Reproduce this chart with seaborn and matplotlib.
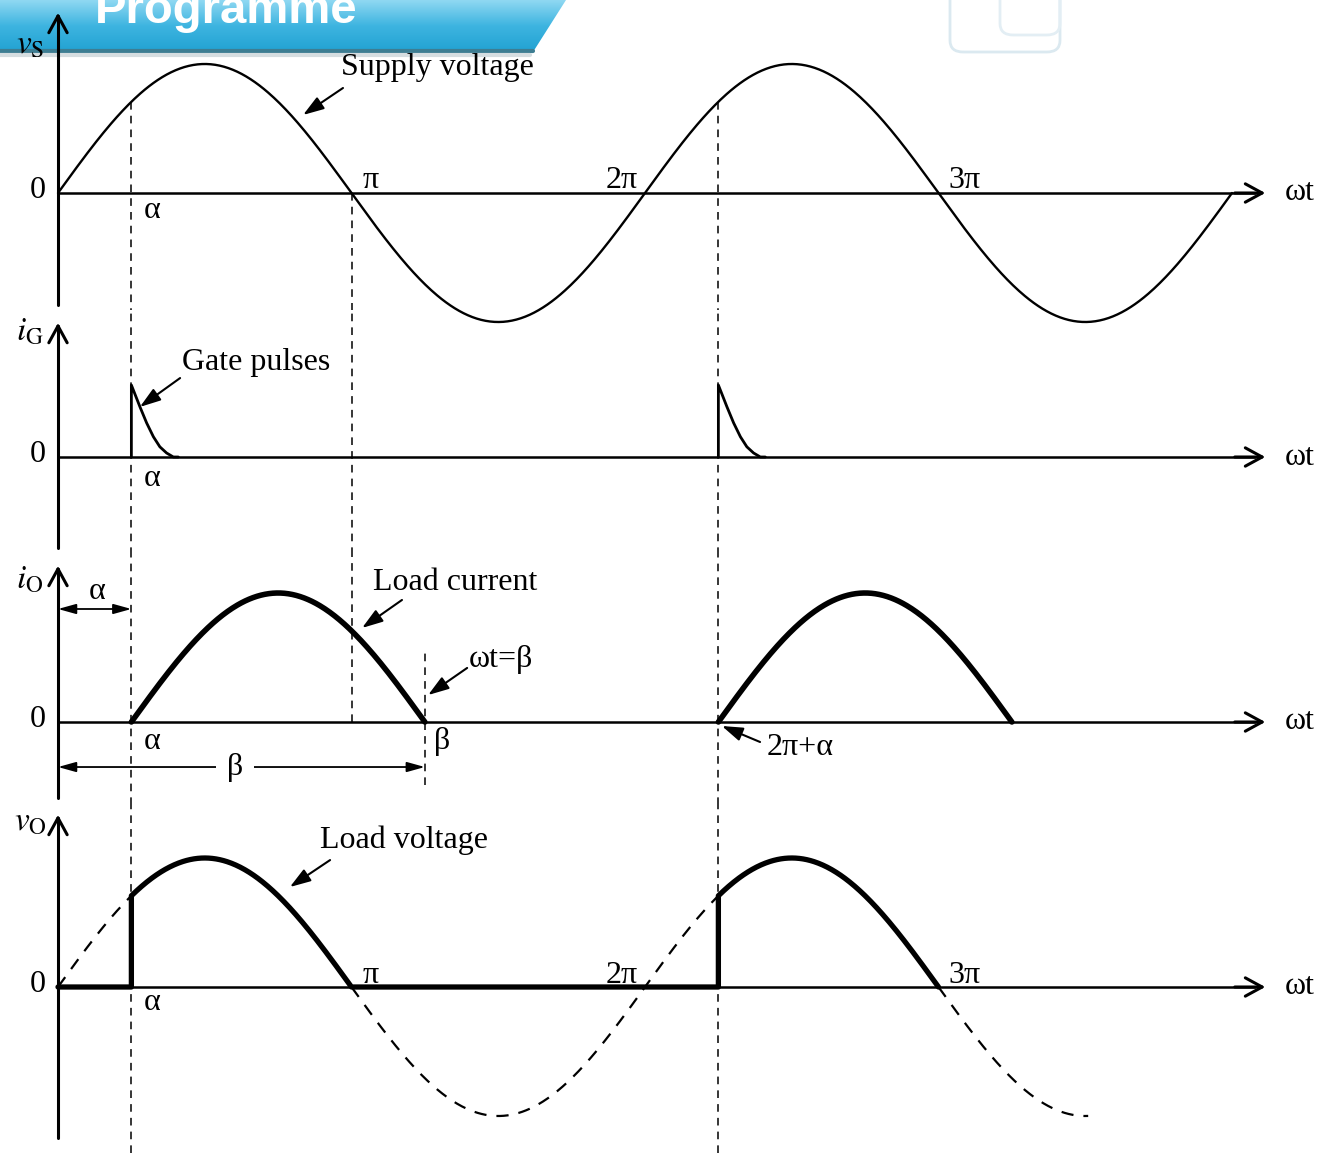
import numpy as np
import matplotlib
matplotlib.use("Agg")
import matplotlib.pyplot as plt
from matplotlib.patches import Polygon, FancyBboxPatch
import seaborn as sns

# angles are in units of pi, amplitudes are normalised to the supply peak
alpha = 0.25          # firing angle
beta = 1.25           # extinction angle
supply_peak = 1.0
current_peak = 1.0
supply_end = 4.0
dashed_vo_end = 3.51
crossings = [1, 2, 3]
crossing_labels = ["π", "2π", "3π"]
gate_offsets = [0.0, 0.0, 0.029, 0.052, 0.075, 0.097, 0.120, 0.143, 0.16]   # after alpha
gate_values = [0.0, 0.558, 0.39, 0.264, 0.157, 0.079, 0.031, 0.0, 0.0]
panel_labels = [r"$v_{\rm S}$", r"$i_{\rm G}$", r"$i_{\rm O}$", r"$v_{\rm O}$"]

sns.set_theme(style="white")
plt.rcParams["font.family"] = ["Liberation Serif", "DejaVu Serif"]
plt.rcParams["mathtext.fontset"] = "stix"
plt.rcParams["text.color"] = "black"

W, H = 1323, 1153
fig = plt.figure(figsize=(W / 100, H / 100), dpi=100)

# ---- slide banner remnant at the top (drawn first, under the chart)
bax = fig.add_axes([0, 1 - 60 / H, 570 / W, 60 / H])
bax.set_zorder(-1)
bax.set_xlim(0, 570)
bax.set_ylim(60, 0)
bax.axis("off")
grad = np.linspace(0, 1, 100).reshape(-1, 1)
cmap = matplotlib.colors.LinearSegmentedColormap.from_list(
    "b", ["#8fd8f2", "#3db4e0", "#22a2d2"])
im = bax.imshow(grad, cmap=cmap, extent=(0, 570, 52, 0), aspect="auto")
poly = Polygon([(0, 0), (566, 0), (533, 52), (0, 52)], closed=True,
               transform=bax.transData, fc="none", ec="none")
bax.add_patch(poly)
im.set_clip_path(poly)
bax.plot([0, 533], [51, 51], color="#3d7d92", lw=3)
bax.plot([0, 530], [55, 55], color="#d5dde0", lw=3)
bax.text(95, 23, "Programme", fontsize=34, fontweight="bold", color="white",
         family="Liberation Sans", ha="left", va="baseline")

# pixel layout of the four bands: top, bottom, zero line
bands = [(0, 310, 193), (310, 555, 457), (555, 805, 722), (805, 1153, 987)]
ypx = 129.0
x0px, pipx = 58.0, 293.5
xlim = (-x0px / pipx, (W - x0px) / pipx)

axes = []
for top, bot, zero in bands:
    ax = fig.add_axes([0, 1 - bot / H, 1, (bot - top) / H])
    ax.set_xlim(*xlim)
    ax.set_ylim(-(bot - zero) / ypx, (zero - top) / ypx)
    ax.axis("off")
    axes.append(ax)

FS = 23
K = "black"
axis_tops = [1.419, 1.062, 1.233, 1.357]
axis_bots = [-0.868, -0.705, -0.589, -1.171]
label_y = [1.147, 0.969, 1.10, 1.279]
head = "->,head_length=0.55,head_width=0.3"

for i, ax in enumerate(axes):
    ax.plot([0, 0], [axis_bots[i], axis_tops[i] - 0.05], color=K, lw=2.2)
    ax.annotate("", xy=(0, axis_tops[i]), xytext=(0, axis_tops[i] - 0.1),
                arrowprops=dict(arrowstyle=head, color=K, lw=2.2, mutation_scale=22))
    ax.plot([0, 4.08], [0, 0], color=K, lw=1.8)
    ax.annotate("", xy=(4.123, 0), xytext=(4.0, 0),
                arrowprops=dict(arrowstyle=head, color=K, lw=2.2, mutation_scale=22))
    ax.text(4.232, 0, "ωt", fontsize=FS, ha="center", va="center")
    ax.text(-0.068, 0.02, "0", fontsize=FS, ha="center", va="center")
    ax.text(-0.095, label_y[i], panel_labels[i], fontsize=FS + 1, ha="center", va="center")

arrow_kw = dict(arrowstyle="-|>,head_length=0.9,head_width=0.3", color=K, lw=1.5,
                mutation_scale=14, shrinkA=0, shrinkB=0)
dash_v = (0, (5, 4))

# ---- panel 1: supply voltage
ax = axes[0]
t = np.linspace(0, supply_end, 800)
sns.lineplot(x=t, y=supply_peak * np.sin(np.pi * t), ax=ax, color=K, lw=1.7,
             estimator=None, sort=False)
label_dx = {1: 0.066, 2: -0.078, 3: 0.09}
for c, lab in zip(crossings, crossing_labels):
    ax.text(c + label_dx[c], 0.10, lab, fontsize=FS, ha="center", va="center")
ax.text(alpha + 0.07, -0.132, "α", fontsize=FS, ha="center", va="center")
ax.text(0.964, 0.969, "Supply voltage", fontsize=FS, ha="left", va="center")
ax.annotate("", xy=(0.835, 0.605), xytext=(0.971, 0.814), arrowprops=arrow_kw)
y_lo = ax.get_ylim()[0]
for a in [alpha, 2 + alpha]:
    ax.plot([a, a], [np.sin(np.pi * a), y_lo], color=K, lw=1.1, ls=dash_v)
ax.plot([1, 1], [0, y_lo], color=K, lw=1.1, ls=dash_v)

# ---- panel 2: gate pulses
ax = axes[1]
for start in [alpha, 2 + alpha]:
    gx = [start + g for g in gate_offsets]
    sns.lineplot(x=gx, y=gate_values, ax=ax, color=K, lw=2.0, estimator=None, sort=False)
ax.text(alpha + 0.07, -0.17, "α", fontsize=FS, ha="center", va="center")
ax.text(0.4225, 0.736, "Gate pulses", fontsize=FS, ha="left", va="center")
ax.annotate("", xy=(0.279, 0.388), xytext=(0.416, 0.612), arrowprops=arrow_kw)
ylo, yhi = ax.get_ylim()
for a in [alpha, 1, 2 + alpha]:
    ax.plot([a, a], [ylo, yhi], color=K, lw=1.1, ls=dash_v)

# ---- panel 3: load current
ax = axes[2]
for start in [alpha, 2 + alpha]:
    tc = np.linspace(start, start + beta - alpha, 300)
    ic = current_peak * np.sin(np.pi * (tc - start) / (beta - alpha))
    sns.lineplot(x=tc, y=ic, ax=ax, color=K, lw=4.0, estimator=None, sort=False)
ylo, yhi = ax.get_ylim()
for a in [alpha, 2 + alpha]:
    ax.plot([a, a], [ylo, yhi], color=K, lw=1.1, ls=dash_v)
ax.plot([1, 1], [0, yhi], color=K, lw=1.1, ls=dash_v)
ax.plot([beta, beta], [-0.488, 0.558], color=K, lw=1.1, ls=dash_v)
ax.text(alpha + 0.07, -0.155, "α", fontsize=FS, ha="center", va="center")
ax.text(beta + 0.058, -0.155, "β", fontsize=FS, ha="center", va="center")
ax.text(1.073, 1.085, "Load current", fontsize=FS, ha="left", va="center")
ax.annotate("", xy=(1.036, 0.729), xytext=(1.172, 0.946), arrowprops=arrow_kw)
ax.text(1.40, 0.481, "ωt=β", fontsize=FS, ha="left", va="center")
ax.annotate("", xy=(1.261, 0.209), xytext=(1.394, 0.419), arrowprops=arrow_kw)
ax.text(2.416, -0.20, "2π+α", fontsize=FS, ha="left", va="center")
ax.annotate("", xy=(2.262, -0.031), xytext=(2.392, -0.155), arrowprops=arrow_kw)
dim_kw = dict(arrowstyle="<|-|>,head_length=0.9,head_width=0.25", color=K, lw=1.3,
              mutation_scale=12, shrinkA=0, shrinkB=0)
ax.annotate("", xy=(alpha, 0.876), xytext=(0, 0.876), arrowprops=dim_kw)
ax.text(alpha / 2 + 0.008, 1.008, "α", fontsize=FS, ha="center", va="center")
ax.annotate("", xy=(beta, -0.349), xytext=(0, -0.349), arrowprops=dim_kw)
ax.text(0.603, -0.349, "β", fontsize=FS, ha="center", va="center",
        bbox=dict(boxstyle="square,pad=0.35", fc="white", ec="none"))

# ---- panel 4: load voltage
ax = axes[3]
vx, vy = [0.0, alpha], [0.0, 0.0]
for k, start in enumerate([alpha, 2 + alpha]):
    ts = np.linspace(start, 1 + 2 * k, 300)
    vx += [start] + list(ts)
    vy += [0.0] + list(supply_peak * np.sin(np.pi * ts))
    if k == 0:
        vx += [1.0, 2 + alpha]
        vy += [0.0, 0.0]
sns.lineplot(x=vx, y=vy, ax=ax, color=K, lw=3.8, estimator=None, sort=False)
for s, e in [(0, alpha), (1, 2 + alpha), (3, dashed_vo_end)]:
    td = np.linspace(s, e, 300)
    ax.plot(td, supply_peak * np.sin(np.pi * td), color=K, lw=1.6, ls=(0, (5.5, 4.5)))
ylo, yhi = ax.get_ylim()
for a in [alpha, 2 + alpha]:
    ax.plot([a, a], [ylo, yhi], color=K, lw=1.1, ls=dash_v)
for c, lab in zip(crossings, crossing_labels):
    ax.text(c + label_dx[c], 0.093, lab, fontsize=FS, ha="center", va="center")
ax.text(alpha + 0.07, -0.124, "α", fontsize=FS, ha="center", va="center")
ax.text(0.893, 1.14, "Load voltage", fontsize=FS, ha="left", va="center")
ax.annotate("", xy=(0.790, 0.775), xytext=(0.927, 0.984), arrowprops=arrow_kw)

for ax in axes:
    for ln in ax.lines:
        ln.set_clip_on(False)

fig.patches.append(FancyBboxPatch((950 / W, 1 - 52 / H), 110 / W, 70 / H,
                                  boxstyle="round,pad=0,rounding_size=0.01",
                                  transform=fig.transFigure, fc="none", ec="#dbe9f0", lw=2))
fig.patches.append(FancyBboxPatch((1000 / W, 1 - 35 / H), 60 / W, 50 / H,
                                  boxstyle="round,pad=0,rounding_size=0.01",
                                  transform=fig.transFigure, fc="none", ec="#e3eef4", lw=2))

fig.savefig("out.png", dpi=100)
